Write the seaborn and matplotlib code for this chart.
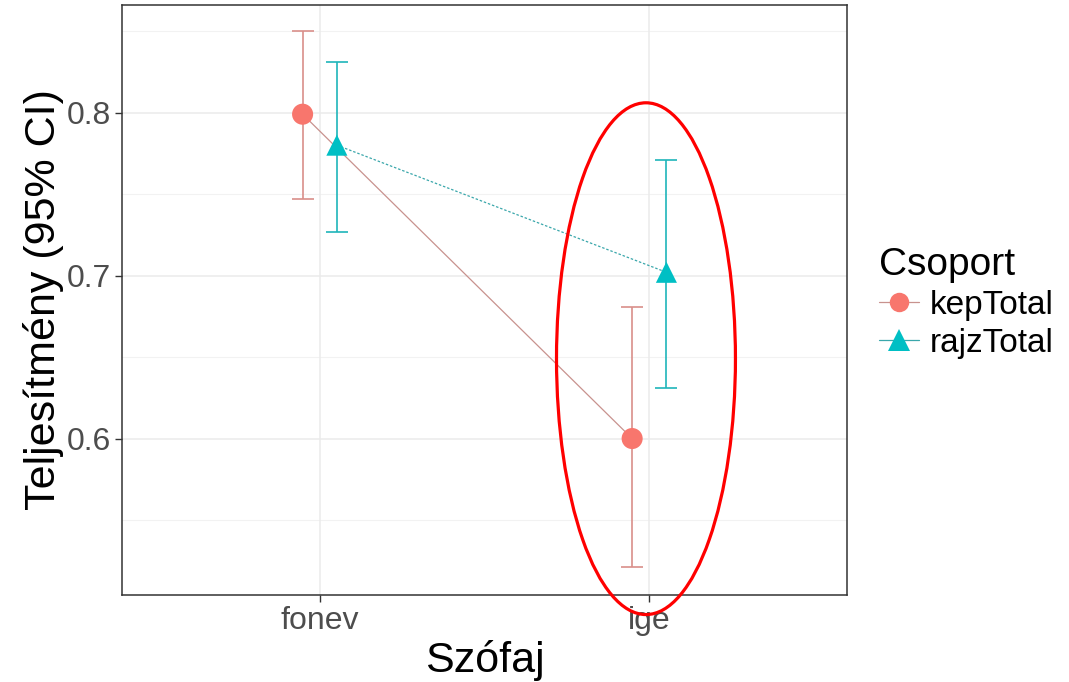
import numpy as np
import pandas as pd
import seaborn as sns
import matplotlib
matplotlib.use("Agg")
import matplotlib.pyplot as plt
from matplotlib.lines import Line2D
from matplotlib.patches import Ellipse

# Word class, group, mean performance and 95% CI bounds
szofaj = ["fonev", "ige"]
csoport = ["kepTotal", "rajzTotal"]
kep_mean = [0.799, 0.600]
kep_lo = [0.747, 0.521]
kep_hi = [0.850, 0.681]
rajz_mean = [0.780, 0.702]
rajz_lo = [0.727, 0.631]
rajz_hi = [0.831, 0.771]

df = pd.DataFrame({
    "Szófaj": szofaj * 2,
    "Csoport": [csoport[0]] * 2 + [csoport[1]] * 2,
    "mean": kep_mean + rajz_mean,
    "lo": kep_lo + rajz_lo,
    "hi": kep_hi + rajz_hi,
})
cat_idx = {c: i + 1 for i, c in enumerate(szofaj)}
dodge = {"kepTotal": -0.052, "rajzTotal": 0.052}
df["x"] = df["Szófaj"].map(cat_idx) + df["Csoport"].map(dodge)

pal = {"kepTotal": "#F8766D", "rajzTotal": "#00BFC4"}
bar_col = {"kepTotal": "#D98F8A", "rajzTotal": "#1FB5BA"}
line_col = {"kepTotal": "#C8928E", "rajzTotal": "#3AA7AB"}
line_style = {"kepTotal": "-", "rajzTotal": (0, (2, 1.5))}
markers = {"kepTotal": "o", "rajzTotal": "^"}

sns.set_theme(style="white")
plt.rcParams["font.family"] = ["Liberation Sans", "DejaVu Sans"]
plt.rcParams["text.color"] = "black"

fig = plt.figure(figsize=(10.69, 6.82), dpi=100)
ax = fig.add_axes([122 / 1069, 1 - 595 / 682, (847 - 122) / 1069, 590 / 682])

# grid like theme_bw
for y in [0.55, 0.65, 0.75, 0.85]:
    ax.axhline(y, color="#F2F2F2", lw=0.8, zorder=0)
for y in [0.6, 0.7, 0.8]:
    ax.axhline(y, color="#EBEBEB", lw=1.1, zorder=0)
for x in [1, 2]:
    ax.axvline(x, color="#EBEBEB", lw=1.1, zorder=0)

for g in csoport:
    sub = df[df["Csoport"] == g]
    ax.errorbar(sub["x"], sub["mean"],
                yerr=[sub["mean"] - sub["lo"], sub["hi"] - sub["mean"]],
                fmt="none", ecolor=bar_col[g], elinewidth=1.2,
                capsize=8, capthick=1.2, zorder=2)
    sns.lineplot(data=sub, x="x", y="mean", color=line_col[g],
                 linestyle=line_style[g], lw=0.9, ax=ax, zorder=3,
                 legend=False, sort=True)

sns.scatterplot(data=df, x="x", y="mean", hue="Csoport", style="Csoport",
                palette=pal, markers=markers, s=[230] * len(df), linewidth=0,
                ax=ax, zorder=4, legend=False)

ax.set_xlim(0.4, 2.6)
ax.set_ylim(0.504, 0.866)
ax.set_xticks([1, 2])
ax.set_xticklabels(szofaj)
ax.set_yticks([0.6, 0.7, 0.8])
ax.set_yticklabels(["0.6", "0.7", "0.8"])
ax.tick_params(axis="both", which="major", length=5, width=1, color="#333333",
               labelsize=23, labelcolor="#4D4D4D", pad=3, direction="out")
ax.tick_params(left=True, bottom=True)
for s in ax.spines.values():
    s.set_color("#333333")
    s.set_linewidth(1.1)

ax.set_xlabel("Szófaj", fontsize=31, color="black", labelpad=3)
ax.set_ylabel("Teljesítmény (95% CI)", fontsize=31, color="black", labelpad=2)

# highlight the verb category
ell = Ellipse((1.99, 0.649), width=0.543, height=0.314, fill=False,
              edgecolor="#FF0000", lw=2.3, clip_on=False, zorder=6)
ax.add_patch(ell)

handles = [Line2D([0], [0], color=line_col[g], lw=0.9, linestyle="-",
                  marker=markers[g], markersize=14 if g == "kepTotal" else 16,
                  markerfacecolor=pal[g], markeredgewidth=0)
           for g in csoport]
leg = fig.legend(handles, csoport, title="Csoport", loc="upper left",
                 bbox_to_anchor=(866 / 1069, 1 - 234 / 682), frameon=False,
                 fontsize=24, title_fontsize=28, handlelength=1.2,
                 handletextpad=0.3, labelspacing=0.2, borderaxespad=0)
leg._legend_box.align = "left"
for t in leg.get_texts():
    t.set_color("black")
leg.get_title().set_color("black")

fig.savefig("out.png", dpi=100)
